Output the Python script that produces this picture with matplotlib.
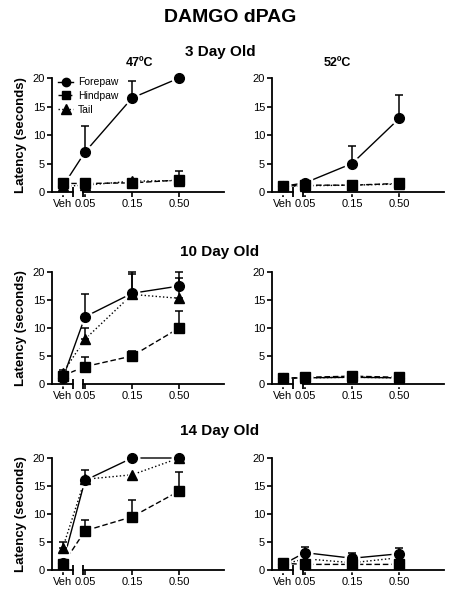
import numpy as np
import matplotlib as mpl
import matplotlib.pyplot as plt
from matplotlib.lines import Line2D

mpl.rcParams["font.family"] = ["Liberation Sans", "DejaVu Sans"]

doses = ["Veh", "0.05", "0.15", "0.50"]
dose_pos = [0.53, 1.0, 2.0, 3.0]   # category positions on the broken x axis

# 3 day old
d3_47_fore = [1.0, 7.0, 16.5, 20.0]
d3_47_fore_err = [0, 4.5, 3.0, 0]
d3_47_hind = [1.5, 1.5, 1.6, 2.1]
d3_47_hind_err = [0, 0, 0, 1.5]
d3_47_tail = [1.0, 1.2, 1.9, 2.0]
d3_47_tail_err = [0, 0, 0, 0]

d3_52_fore = [1.0, 1.6, 5.0, 12.9]
d3_52_fore_err = [0, 0, 3.0, 4.1]
d3_52_hind = [1.0, 1.2, 1.2, 1.5]
d3_52_hind_err = [0, 0, 0, 0]
d3_52_tail = [1.0, 1.1, 1.2, 1.4]
d3_52_tail_err = [0, 0, 0, 0]

# 10 day old
d10_47_fore = [1.0, 12.0, 16.2, 17.5]
d10_47_fore_err = [0, 4.0, 3.8, 2.5]
d10_47_hind = [1.5, 3.1, 5.0, 10.0]
d10_47_hind_err = [0, 1.8, 0.9, 3.0]
d10_47_tail = [2.0, 8.0, 16.0, 15.3]
d10_47_tail_err = [0.5, 2.0, 3.6, 3.7]

d10_52_fore = [1.0, 1.1, 1.2, 1.1]
d10_52_fore_err = [0, 0, 0, 0]
d10_52_hind = [1.0, 1.2, 1.4, 1.2]
d10_52_hind_err = [0, 0, 0, 0]
d10_52_tail = [1.0, 1.1, 1.2, 1.1]
d10_52_tail_err = [0, 0, 0, 0]

# 14 day old
d14_47_fore = [1.3, 16.0, 20.0, 20.0]
d14_47_fore_err = [0, 1.9, 0, 0]
d14_47_hind = [1.0, 7.0, 9.5, 14.1]
d14_47_hind_err = [0, 2.0, 3.0, 3.4]
d14_47_tail = [4.0, 16.2, 17.0, 20.0]
d14_47_tail_err = [1.0, 0, 0, 0]

d14_52_fore = [1.0, 3.1, 2.1, 2.9]
d14_52_fore_err = [0, 1.0, 0.9, 1.1]
d14_52_hind = [1.2, 1.0, 1.0, 1.0]
d14_52_hind_err = [0, 0, 0, 0]
d14_52_tail = [1.0, 2.0, 1.3, 2.2]
d14_52_tail_err = [0, 0, 0, 0]

styles = [("o", "-", 7), ("s", (0, (4, 2)), 7), ("^", ":", 7.5)]
labels = ["Forepaw", "Hindpaw", "Tail"]


def draw_panel(ax, series, ylabel=False, legend=False):
    x = np.array(dose_pos)
    for (vals, err), (mk, ls, ms) in zip(series, styles):
        vals = np.array(vals)
        ax.plot(x, vals, ls=ls, color="black", lw=1.0, zorder=2, clip_on=False)
        # white halo leaves the small gap between line and marker
        ax.plot(x, vals, ls="none", marker=mk, ms=ms + 3.5, color="white",
                mec="white", zorder=3, clip_on=False)
    for (vals, err), (mk, ls, ms) in zip(series, styles):
        vals = np.array(vals)
        err = np.array(err, dtype=float)
        m = err > 0
        if m.any():
            ax.errorbar(x[m], vals[m], yerr=[np.zeros(m.sum()), err[m]], fmt="none",
                        ecolor="black", elinewidth=1.1, capsize=3, capthick=1.1,
                        zorder=4, clip_on=False)
        ax.plot(x, vals, ls="none", marker=mk, ms=ms, color="black",
                zorder=5, clip_on=False)

    ax.set_xlim(0.30, 3.95)
    ax.set_ylim(0, 20)
    ax.set_yticks([0, 5, 10, 15, 20])
    ax.set_xticks(dose_pos)
    ax.set_xticklabels(doses)
    for s in ["top", "right", "bottom"]:
        ax.spines[s].set_visible(False)
    ax.spines["left"].set_linewidth(1.3)
    ax.tick_params(axis="both", labelsize=8, width=1.2, length=3.5, pad=1.5)

    # broken x axis
    tr = ax.get_xaxis_transform()
    ax.plot([0.30, 0.745], [0, 0], color="black", lw=1.3, transform=tr, clip_on=False, zorder=6)
    ax.plot([0.957, 3.95], [0, 0], color="black", lw=1.3, transform=tr, clip_on=False, zorder=6)
    ax.plot([0.745, 0.957], [0, 0], ls="none", marker="|", ms=7, mew=1.3, color="black",
            transform=tr, clip_on=False, zorder=6)

    if ylabel:
        ax.set_ylabel("Latency (seconds)", fontsize=9.5, fontweight="bold", labelpad=4)
    if legend:
        handles = [Line2D([], [], color="black", marker=mk, ls=ls, lw=1.0, ms=ms - 1)
                   for mk, ls, ms in styles]
        ax.legend(handles, labels, loc="upper left", bbox_to_anchor=(0.0, 1.06),
                  frameon=False, fontsize=7.5, handlelength=1.4, handletextpad=0.5,
                  labelspacing=0.35, borderaxespad=0.2)


fig = plt.figure(figsize=(4.61, 6.0), dpi=100)

left_x, right_x, w = 52 / 461, 272 / 461, 172 / 461
rows = [(192, 78), (384, 272), (570, 458)]
panels = [
    [(d3_47_fore, d3_47_fore_err), (d3_47_hind, d3_47_hind_err), (d3_47_tail, d3_47_tail_err)],
    [(d3_52_fore, d3_52_fore_err), (d3_52_hind, d3_52_hind_err), (d3_52_tail, d3_52_tail_err)],
    [(d10_47_fore, d10_47_fore_err), (d10_47_hind, d10_47_hind_err), (d10_47_tail, d10_47_tail_err)],
    [(d10_52_fore, d10_52_fore_err), (d10_52_hind, d10_52_hind_err), (d10_52_tail, d10_52_tail_err)],
    [(d14_47_fore, d14_47_fore_err), (d14_47_hind, d14_47_hind_err), (d14_47_tail, d14_47_tail_err)],
    [(d14_52_fore, d14_52_fore_err), (d14_52_hind, d14_52_hind_err), (d14_52_tail, d14_52_tail_err)],
]

for i, (bot, top) in enumerate(rows):
    b = 1 - bot / 600
    h = (bot - top) / 600
    axl = fig.add_axes([left_x, b, w, h])
    axr = fig.add_axes([right_x, b, w, h])
    draw_panel(axl, panels[2 * i], ylabel=True, legend=(i == 0))
    draw_panel(axr, panels[2 * i + 1])

fig.text(230 / 461, 1 - 18 / 600, "DAMGO dPAG", ha="center", va="center",
         fontsize=14, fontweight="bold")
for txt, y in [("3 Day Old", 52), ("10 Day Old", 252), ("14 Day Old", 431)]:
    fig.text(220 / 461, 1 - y / 600, txt, ha="center", va="center",
             fontsize=11, fontweight="bold")
fig.text(140 / 461, 1 - 63 / 600, "47ºC", ha="center", va="center", fontsize=9, fontweight="bold")
fig.text(337 / 461, 1 - 63 / 600, "52ºC", ha="center", va="center", fontsize=9, fontweight="bold")

fig.savefig("out.png", dpi=100)
